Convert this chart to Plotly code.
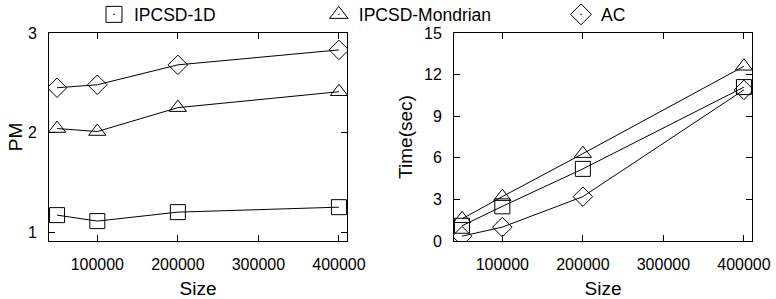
import plotly.graph_objects as go

sizes = [50000, 100000, 200000, 400000]
pm_1d = [1.17, 1.11, 1.20, 1.25]
pm_mondrian = [2.04, 2.01, 2.25, 2.41]
pm_ac = [2.45, 2.48, 2.68, 2.83]
time_1d = [1.1, 2.5, 5.2, 11.1]
time_mondrian = [1.6, 3.2, 6.3, 12.6]
time_ac = [0.35, 1.0, 3.2, 10.9]
series_names = ["IPCSD-1D", "IPCSD-Mondrian", "AC"]
x_ticks = [100000, 200000, 300000, 400000]
pm_ticks = [1, 2, 3]
time_ticks = [0, 3, 6, 9, 12, 15]

symbols = ["square-open", "triangle-up-open", "diamond-open"]
legend_symbols = ["square-open-dot", "triangle-up-open-dot", "diamond-open-dot"]
FONT = "Liberation Sans, Arial, sans-serif"

fig = go.Figure()
for vals, sym in zip([pm_1d, pm_mondrian, pm_ac], symbols):
    fig.add_trace(go.Scatter(x=sizes, y=vals, mode="lines+markers", showlegend=False,
                             line=dict(color="black", width=1),
                             marker=dict(symbol=sym, size=15, color="black", line=dict(width=1, color="black")),
                             xaxis="x", yaxis="y"))
for vals, sym in zip([time_1d, time_mondrian, time_ac], symbols):
    fig.add_trace(go.Scatter(x=sizes, y=vals, mode="lines+markers", showlegend=False,
                             line=dict(color="black", width=1),
                             marker=dict(symbol=sym, size=15, color="black", line=dict(width=1, color="black")),
                             xaxis="x2", yaxis="y2"))
legend_ids = ["legend", "legend2", "legend3"]
for name, sym, lid in zip(series_names, legend_symbols, legend_ids):
    fig.add_trace(go.Scatter(x=[None], y=[None], mode="markers", name=name, legend=lid,
                             marker=dict(symbol=sym, size=16, color="black", line=dict(width=1, color="black")),
                             xaxis="x", yaxis="y"))

axis_common = dict(showline=True, linecolor="black", linewidth=1, mirror="ticks",
                   ticks="inside", ticklen=6, tickcolor="black", showgrid=False, zeroline=False,
                   automargin=False,
                   tickfont=dict(family=FONT, size=16, color="black"))

fig.update_layout(
    width=776, height=299,
    margin=dict(l=49, r=24, t=33, b=58, autoexpand=False),
    plot_bgcolor="white", paper_bgcolor="white",
    font=dict(family=FONT, size=16, color="black"),
    xaxis=dict(domain=[0, 0.4239], range=[40000, 410000], tickvals=x_ticks, tickformat="d",
               ticklabelstandoff=9, title=dict(text="Size", standoff=10), **axis_common),
    yaxis=dict(range=[0.91, 3], tickvals=pm_ticks, ticklabelstandoff=8,
               title=dict(text="PM", standoff=0), **axis_common),
    xaxis2=dict(domain=[0.5761, 1], range=[40000, 410000], tickvals=x_ticks, tickformat="d", anchor="y2",
                ticklabelstandoff=9, title=dict(text="Size", standoff=10), **axis_common),
    yaxis2=dict(range=[0, 15], tickvals=time_ticks, anchor="x2", ticklabelstandoff=8,
                title=dict(text="Time(sec)", standoff=6), **axis_common),
)
legend_x = [0.064, 0.3838, 0.7283]
for lid, lx in zip(legend_ids, legend_x):
    fig.update_layout({lid: dict(x=lx, y=1.089, xanchor="left", yanchor="middle",
                                 bgcolor="rgba(0,0,0,0)", font=dict(family=FONT, size=17.5, color="black"),
                                 orientation="h")})

fig.write_html("out.html", config={"displayModeBar": False},
               post_script="document.body.style.margin='0';")
